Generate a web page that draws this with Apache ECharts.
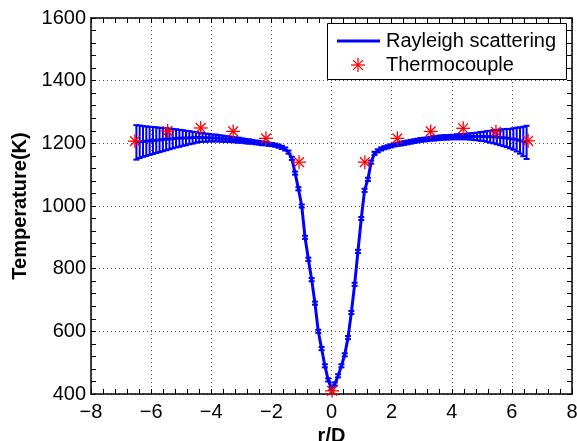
<!DOCTYPE html>
<html><head><meta charset="utf-8">
<script src="https://cdn.jsdelivr.net/npm/echarts@6/dist/echarts.min.js"></script>
<style>html,body{margin:0;padding:0;background:#fff}#c{width:577px;height:441px}</style>
</head><body><div id="c"></div>
<script>
const rPos = [
-6.49,-6.38,-6.27,-6.16,-6.05,-5.94,-5.83,-5.72,-5.61,-5.50,
-5.39,-5.28,-5.17,-5.06,-4.95,-4.84,-4.73,-4.62,-4.51,-4.40,
-4.29,-4.18,-4.07,-3.96,-3.85,-3.74,-3.63,-3.52,-3.41,-3.30,
-3.19,-3.08,-2.97,-2.86,-2.75,-2.64,-2.53,-2.42,-2.31,-2.20,
-2.09,-1.98,-1.87,-1.76,-1.65,-1.54,-1.43,-1.32,-1.21,-1.10,
-0.99,-0.88,-0.77,-0.66,-0.55,-0.44,-0.33,-0.22,-0.11,0,
0.11,0.22,0.33,0.44,0.55,0.66,0.77,0.88,0.99,1.10,
1.21,1.32,1.43,1.54,1.65,1.76,1.87,1.98,2.09,2.20,
2.31,2.42,2.53,2.64,2.75,2.86,2.97,3.08,3.19,3.30,
3.41,3.52,3.63,3.74,3.85,3.96,4.07,4.18,4.29,4.40,
4.51,4.62,4.73,4.84,4.95,5.06,5.17,5.28,5.39,5.50,
5.61,5.72,5.83,5.94,6.05,6.16,6.27,6.38,6.49];
const tempMean = [
1203,1205,1206,1207,1208,1209,1210,1211,1212,1213,
1214,1215,1216,1216,1217,1217,1218,1218,1219,1219,
1219,1218,1218,1217,1217,1216,1215,1214,1213,1212,
1211,1210,1209,1207,1206,1205,1203,1202,1200,1199,
1197,1196,1194,1191,1187,1182,1172,1152,1105,1055,
1000,900,830,765,690,600,545,490,445,418,
432,458,490,525,580,660,750,855,960,1050,
1085,1140,1168,1176,1182,1186,1189,1192,1195,1197,
1199,1201,1203,1205,1207,1209,1211,1212,1213,1215,
1216,1217,1218,1219,1219,1220,1220,1221,1221,1221,
1222,1222,1222,1222,1222,1222,1222,1221,1221,1220,
1219,1218,1217,1215,1214,1212,1209,1206,1203];
const tempErr = [
55,52,49,47,45,43,41,39,37,35,
33,31,29,27,25,23,21,19,17,15,
14,13,12,11,11,10,10,9,9,8,
8,8,7,7,7,6,6,6,6,5,
5,5,5,5,5,5,5,5,5,5,
5,5,5,5,5,5,5,5,5,5,
5,5,5,5,5,5,5,5,5,5,
5,5,5,5,5,5,5,5,5,5,
6,6,6,6,6,6,6,6,6,6,
7,7,7,7,7,7,7,8,8,8,
9,10,11,12,14,15,17,19,21,23,
25,27,29,31,34,38,42,47,53];
const tcR = [-6.54,-5.45,-4.35,-3.27,-2.18,-1.08,0.02,1.11,2.19,3.30,4.38,5.47,6.54];
const tcT = [1207,1239,1249,1238,1216,1140,410,1140,1216,1238,1248,1237,1208];
const xTicks = {min:-8, max:8, interval:2};
const yTicks = {min:400, max:1600, interval:200};
const seriesNames = ['Rayleigh scattering','Thermocouple'];

const FONT = '"Liberation Sans", Arial, Helvetica, sans-serif';
const BLUE = '#0000ff', RED = '#ff0000';
const chart = echarts.init(document.getElementById('c'), null, {renderer:'canvas'});

const lineData = rPos.map((r,i)=>[r, tempMean[i]]);
const errData = rPos.map((r,i)=>[r, tempMean[i]-tempErr[i], tempMean[i]+tempErr[i]]);
const tcData = tcR.map((r,i)=>[r, tcT[i]]);

function axisCommon(extra){
  return Object.assign({
    type:'value',
    axisLine:{show:true, onZero:false, lineStyle:{color:'#000', width:1.5}},
    axisTick:{show:true, inside:true, length:5, lineStyle:{color:'#000', width:1}},
    minorTick:{show:true, splitNumber:5, length:5, lineStyle:{color:'#000', width:1}},
    splitLine:{show:false},
    axisLabel:{show:false}
  }, extra);
}
function fmtMinus(v){ return v < 0 ? '\u2212' + Math.abs(v) : String(v); }

const AST = 7, AST_W = 1.3;
function asteriskLines(cx, cy, s, z){
  const d = s*0.7;
  const st = {stroke:RED, lineWidth:AST_W};
  const segs = [[cx-s,cy,cx+s,cy],[cx,cy-s,cx,cy+s],[cx-d,cy-d,cx+d,cy+d],[cx-d,cy+d,cx+d,cy-d]];
  return segs.map(q => {
    const el = {type:'line', shape:{x1:q[0],y1:q[1],x2:q[2],y2:q[3]}, style:st};
    if (z !== undefined) el.z = z;
    return el;
  });
}

const option = {
  animation:false,
  backgroundColor:'#fff',
  textStyle:{fontFamily:FONT},
  grid:{left:91, right:5, top:18, bottom:47, containLabel:false, outerBoundsMode:'none'},
  xAxis:[
    axisCommon({
      position:'bottom', min:xTicks.min, max:xTicks.max, interval:xTicks.interval,
      name:'r/D', nameLocation:'middle', nameGap:26,
      nameTextStyle:{fontFamily:FONT, fontSize:20, fontWeight:'bold', color:'#000'},
      axisLabel:{show:true, margin:8, fontFamily:FONT, fontSize:20, color:'#000', formatter:fmtMinus},
      splitLine:{show:true, lineStyle:{color:'#555', width:1, type:[1,3]}}
    }),
    axisCommon({position:'top', min:xTicks.min, max:xTicks.max, interval:xTicks.interval})
  ],
  yAxis:[
    axisCommon({
      position:'left', min:yTicks.min, max:yTicks.max, interval:yTicks.interval,
      name:'Temperature(K)', nameLocation:'middle', nameGap:55,
      nameTextStyle:{fontFamily:FONT, fontSize:20, fontWeight:'bold', color:'#000'},
      axisLabel:{show:true, margin:5, fontFamily:FONT, fontSize:20, color:'#000', formatter:v=>String(v)},
      splitLine:{show:true, lineStyle:{color:'#555', width:1, type:[1,3]}}
    }),
    axisCommon({position:'right', min:yTicks.min, max:yTicks.max, interval:yTicks.interval})
  ],
  series:[
    {
      name:seriesNames[0]+' error', type:'custom', xAxisIndex:0, yAxisIndex:0,
      data:errData, encode:{x:0, y:[1,2]}, z:2, silent:true,
      renderItem:function(params, api){
        const x = api.value(0);
        const pLo = api.coord([x, api.value(1)]);
        const pHi = api.coord([x, api.value(2)]);
        const hw = 3;
        const st = {stroke:BLUE, lineWidth:2};
        return {type:'group', children:[
          {type:'line', shape:{x1:pLo[0],y1:pLo[1],x2:pHi[0],y2:pHi[1]}, style:st},
          {type:'line', shape:{x1:pLo[0]-hw,y1:pLo[1],x2:pLo[0]+hw,y2:pLo[1]}, style:st},
          {type:'line', shape:{x1:pHi[0]-hw,y1:pHi[1],x2:pHi[0]+hw,y2:pHi[1]}, style:st}
        ]};
      }
    },
    {
      name:seriesNames[0], type:'line', xAxisIndex:0, yAxisIndex:0,
      data:lineData, showSymbol:false, symbol:'none', z:3,
      lineStyle:{color:BLUE, width:3}
    },
    {
      name:seriesNames[1], type:'custom', xAxisIndex:0, yAxisIndex:0,
      data:tcData, encode:{x:0, y:1}, z:4, clip:false,
      renderItem:function(params, api){
        const p = api.coord([api.value(0), api.value(1)]);
        return {type:'group', children:asteriskLines(p[0], p[1], AST)};
      }
    }
  ],
  graphic:[
    {type:'rect', z:100, shape:{x:327.5, y:23.5, width:239, height:56},
     style:{fill:'#fff', stroke:'#000', lineWidth:1}},
    {type:'line', z:101, shape:{x1:337, y1:41, x2:380, y2:41}, style:{stroke:BLUE, lineWidth:3}},
    {type:'text', z:101, x:386, y:41, style:{text:seriesNames[0], fontFamily:FONT, fontSize:20, fill:'#000', verticalAlign:'middle', align:'left'}},
    ...asteriskLines(358, 65, AST, 101),
    {type:'text', z:101, x:386, y:65, style:{text:seriesNames[1], fontFamily:FONT, fontSize:20, fill:'#000', verticalAlign:'middle', align:'left'}}
  ]
};
chart.setOption(option);
</script>
</body></html>
